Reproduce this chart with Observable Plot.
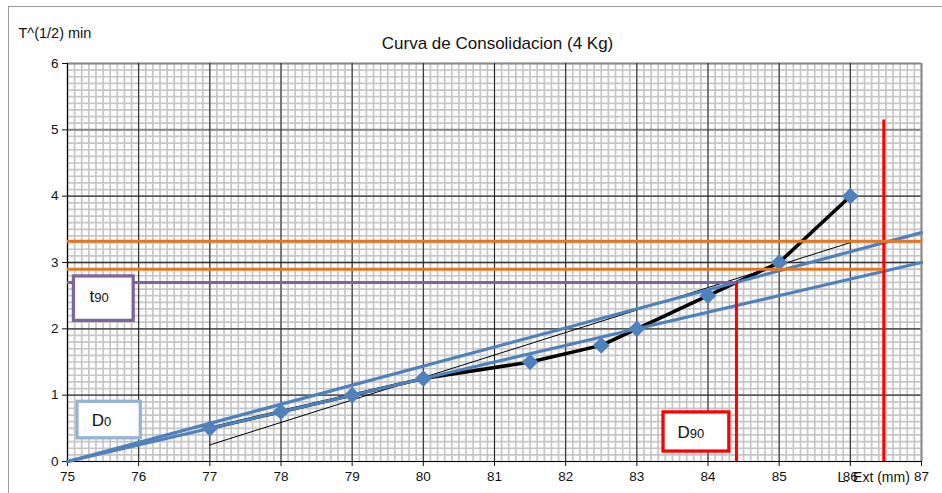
<!DOCTYPE html>
<html>
<head>
<meta charset="utf-8">
<script src="https://cdn.jsdelivr.net/npm/d3@7"></script>
<script src="https://cdn.jsdelivr.net/npm/@observablehq/plot@0.6"></script>
<style>
  html, body { margin: 0; padding: 0; background: #fff; overflow: hidden; }
  #wrap { position: relative; width: 942px; height: 493px; }
  #border { position: absolute; left: 8px; top: 6px; width: 1000px; height: 1000px;
            border-top: 1.5px solid #9a9a9a; border-left: 1.5px solid #9a9a9a; pointer-events: none; }
  svg { display: block; }
</style>
</head>
<body>
<div id="wrap"><div id="border"></div></div>
<script>
// ---- data ----
const title = "Curva de Consolidacion (4 Kg)";
const yTitle = "T^(1/2) min";
const xTitle = "L. Ext (mm)";
const xTicks = [75, 76, 77, 78, 79, 80, 81, 82, 83, 84, 85, 86, 87];
const yTicks = [0, 1, 2, 3, 4, 5, 6];

// measured points: L. Ext (mm) vs sqrt(t)
const lext = [77, 78, 79, 80, 81.5, 82.5, 83, 84, 85, 86];
const sqrtT = [0.5, 0.75, 1.0, 1.25, 1.5, 1.75, 2.0, 2.5, 3.0, 4.0];

// construction lines
const tangentX = [75, 87];
const tangentUpperY = [0, 3.45];
const tangentLowerY = [0, 3.0];
const thinX = [77, 86];
const thinY = [0.25, 3.3];
const orangeHighY = 3.32;
const orangeLowY = 2.9;
const t90Level = 2.7;
const d90X = 84.4;
const rightRedX = 86.47;
const rightRedTop = 5.15;

// annotation boxes (data coordinates)
const boxLabels = ["t", "D", "D"];
const boxSubs = ["90", "0", "90"];
const boxX1 = [75.09, 75.14, 83.375];
const boxX2 = [75.93, 76.03, 84.30];
const boxY1 = [2.12, 0.35, 0.15];
const boxY2 = [2.79, 0.90, 0.74];
const boxTextX = [75.31, 75.34, 83.57];
const boxTextY = [2.40, 0.53, 0.35];
const boxColors = ["#8064a2", "#95b3d7", "#ff0000"];

// ---- build ----
const points = lext.map((x, i) => ({x, y: sqrtT[i]}));
const upper = tangentX.map((x, i) => ({x, y: tangentUpperY[i]}));
const lower = tangentX.map((x, i) => ({x, y: tangentLowerY[i]}));
const thin = thinX.map((x, i) => ({x, y: thinY[i]}));
const boxes = boxLabels.map((l, i) => ({
  label: l + "|" + boxSubs[i], x1: boxX1[i], x2: boxX2[i], y1: boxY1[i], y2: boxY2[i],
  tx: boxTextX[i], ty: boxTextY[i], color: boxColors[i]
}));

const minorX = d3.range(75, 87.001, 0.1).map(v => +v.toFixed(1));
const minorY = d3.range(0, 6.001, 0.1).map(v => +v.toFixed(1));

const font = "'Liberation Sans', Arial, sans-serif";

const chart = Plot.plot({
  width: 942,
  height: 493,
  marginLeft: 67,
  marginRight: 21,
  marginTop: 63,
  marginBottom: 32,
  style: {fontFamily: font, background: "transparent", overflow: "visible"},
  x: {domain: [75, 87], label: null},
  y: {domain: [0, 6], label: null},
  color: {type: "identity"},
  marks: [
    // minor grid
    Plot.ruleX(minorX, {stroke: "#c6c6c6", strokeWidth: 1.7}),
    Plot.ruleY(minorY, {stroke: "#c6c6c6", strokeWidth: 1.7}),
    // major grid
    Plot.ruleY(yTicks.filter(v => v > 0 && v < 5), {stroke: "#333", strokeWidth: 1.3}),
    Plot.ruleY(yTicks.filter(v => v >= 5), {stroke: "#888", strokeWidth: 2}),
    Plot.ruleX(xTicks.filter(v => v > 75 && v < 87), {stroke: "#222", strokeWidth: 1}),
    Plot.ruleX([87], {stroke: "#8a8a8a", strokeWidth: 2}),
    // axes
    Plot.ruleX([75], {stroke: "#000", strokeWidth: 1.2}),
    Plot.ruleY([0], {stroke: "#000", strokeWidth: 1.2}),
    Plot.axisX(xTicks, {tickSize: 5, tickPadding: 5, fontSize: 13.5, color: "#111", tickFormat: d => String(d)}),
    Plot.axisY(yTicks, {tickSize: 5, tickPadding: 4, fontSize: 13.5, color: "#111", tickFormat: d => String(d)}),
    // thin construction line
    Plot.line(thin, {x: "x", y: "y", stroke: "#000", strokeWidth: 1}),
    // data line
    Plot.line(points, {x: "x", y: "y", stroke: "#000", strokeWidth: 3.5}),
    // tangent lines
    Plot.line(upper, {x: "x", y: "y", stroke: "#4f81bd", strokeWidth: 3.2}),
    Plot.line(lower, {x: "x", y: "y", stroke: "#4f81bd", strokeWidth: 3.2}),
    // markers
    Plot.dot(points, {x: "x", y: "y", symbol: "diamond2", r: 7.5, fill: "#4f81bd", stroke: "none"}),
    // red verticals
    Plot.ruleX([{x: d90X, y1: 0, y2: t90Level}], {x: "x", y1: "y1", y2: "y2", stroke: "#ff0000", strokeWidth: 3}),
    Plot.ruleX([{x: rightRedX, y1: 0, y2: rightRedTop}], {x: "x", y1: "y1", y2: "y2", stroke: "#ff0000", strokeWidth: 3}),
    // orange horizontals
    Plot.ruleY([{y: orangeHighY, x1: 75, x2: 87}], {y: "y", x1: "x1", x2: "x2", stroke: "#e8761f", strokeWidth: 3}),
    Plot.ruleY([{y: orangeLowY, x1: 75, x2: rightRedX}], {y: "y", x1: "x1", x2: "x2", stroke: "#e8761f", strokeWidth: 3}),
    // purple t90 line
    Plot.ruleY([{y: t90Level, x1: 75, x2: d90X}], {y: "y", x1: "x1", x2: "x2", stroke: "#8064a2", strokeWidth: 3}),
    // annotation boxes
    Plot.rect(boxes, {x1: "x1", x2: "x2", y1: "y1", y2: "y2", fill: "#fff", stroke: "color", strokeWidth: 3.3}),
    Plot.text(boxes, {x: "tx", y: "ty", text: "label", textAnchor: "start", lineAnchor: "bottom",
      fontSize: 17, fill: "#111"}),
    // titles
    Plot.text([title], {frameAnchor: "top", dx: 3, dy: -20, fontSize: 17, fill: "#111", lineAnchor: "middle"}),
    Plot.text([yTitle], {frameAnchor: "top-left", dx: -49, dy: -30, textAnchor: "start", lineAnchor: "middle", fontSize: 14.5, fill: "#111"}),
    Plot.text([xTitle], {frameAnchor: "bottom-right", dx: -84, dy: 16, textAnchor: "start", lineAnchor: "middle", fontSize: 14, fill: "#111"})
  ]
});

// render subscripts (smaller digits on same baseline)
chart.querySelectorAll('text').forEach(t => {
  if (!t.textContent.includes("|")) return;
  const parts = t.textContent.split("|");
  t.textContent = "";
  const a = document.createElementNS("http://www.w3.org/2000/svg", "tspan");
  a.textContent = parts[0];
  const b = document.createElementNS("http://www.w3.org/2000/svg", "tspan");
  b.textContent = parts[1];
  b.setAttribute("font-size", "13");
  t.appendChild(a);
  t.appendChild(b);
});

document.getElementById("wrap").appendChild(chart);
</script>
</body>
</html>
